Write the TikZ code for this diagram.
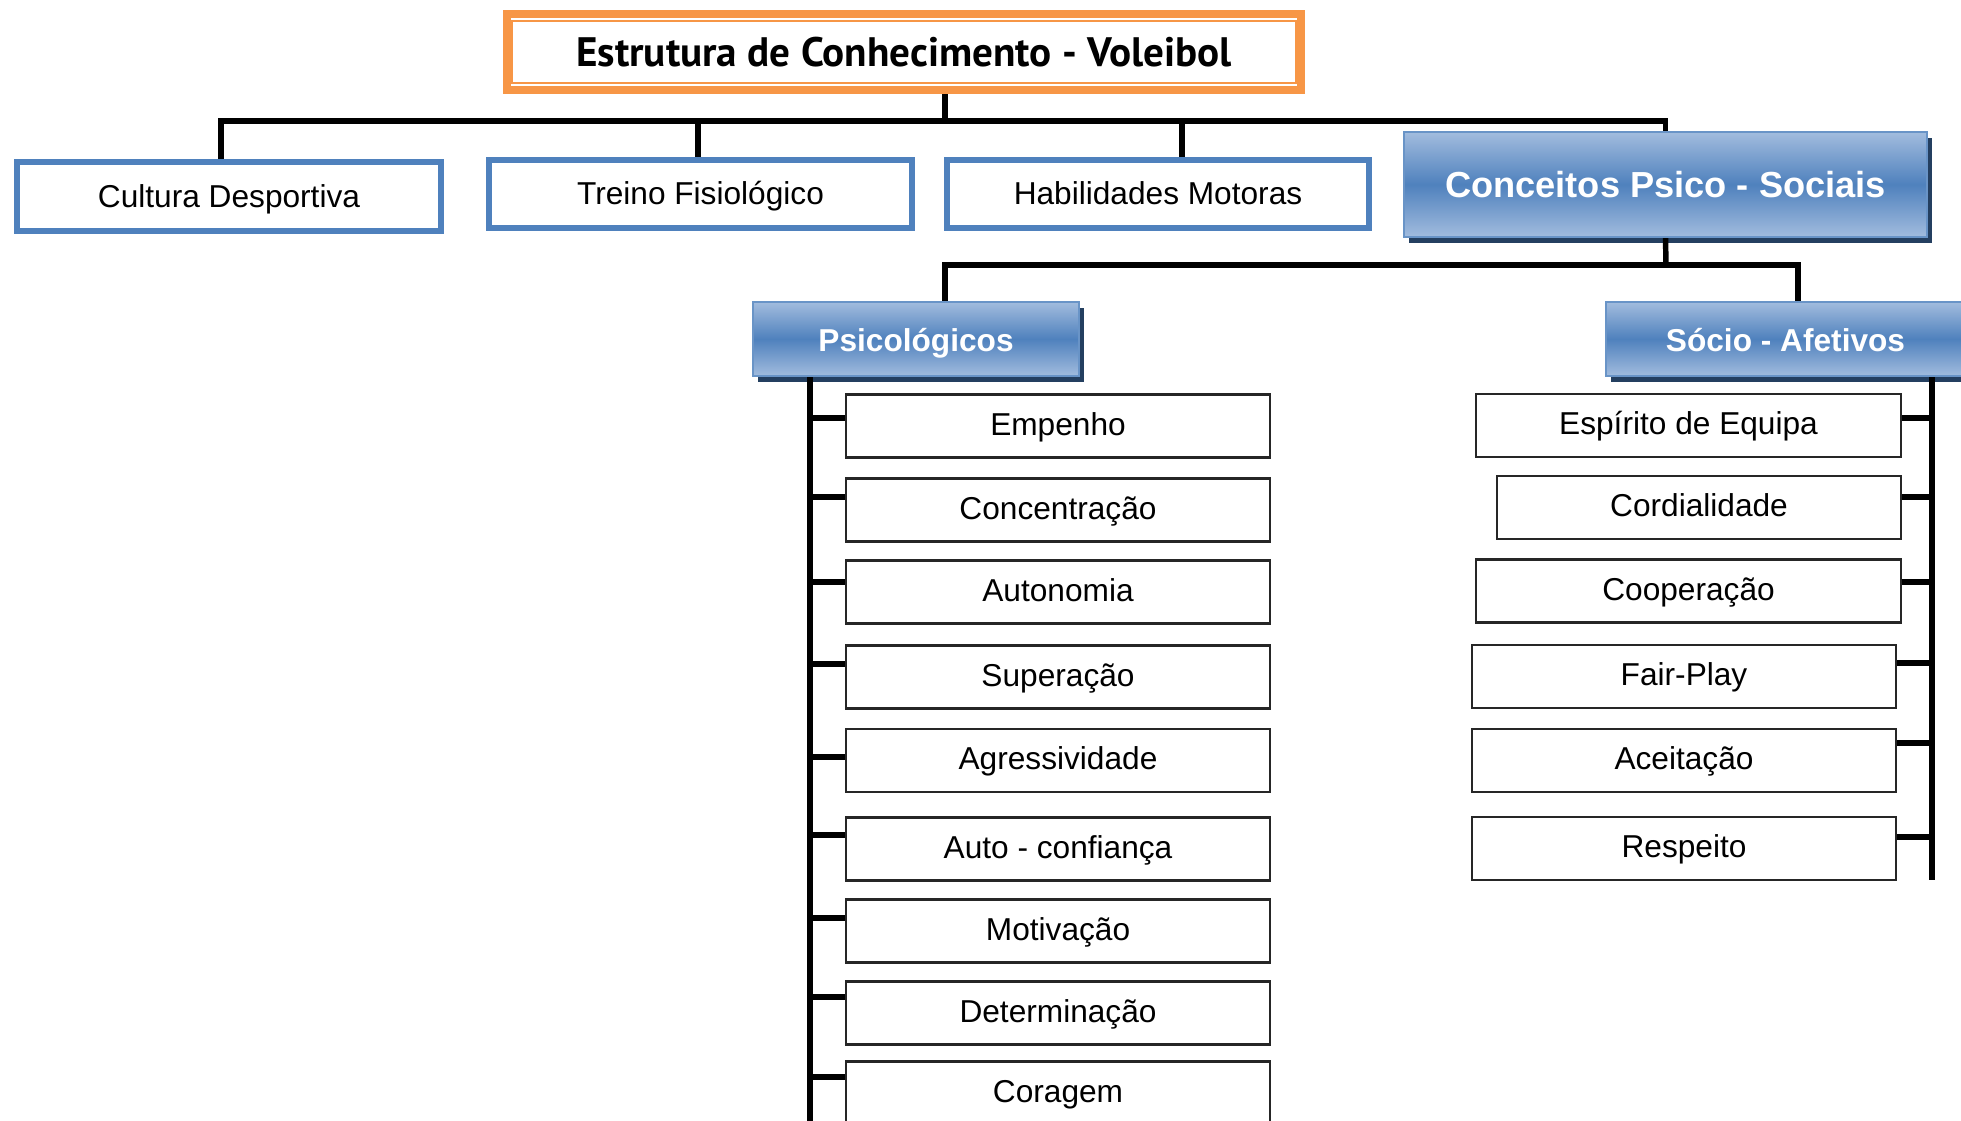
\documentclass[tikz,border=0pt]{standalone}
\usepackage{fontspec}
\setmainfont{Liberation Sans}
\newfontfamily\titlefont{PT Sans}
\usetikzlibrary{shadows}

\definecolor{laranja}{HTML}{F79646}
\definecolor{azul}{HTML}{4F81BD}
\definecolor{azulclaro}{HTML}{A2BCDE}
\definecolor{azulescuro}{HTML}{243F60}

\begin{document}
\begin{tikzpicture}[x=0.01cm,y=-0.01cm,
  liga/.style={line width=1.55pt},
  caixa/.style={draw=azul,line width=1.7pt,fill=white,minimum width=4.24cm,minimum height=0.69cm,
    text height=7.8pt,text depth=1.8pt,font=\fontsize{9}{11}\selectfont},
  grad/.style={draw=azul!85,line width=0.6pt,top color=azulclaro,bottom color=azulclaro,middle color=azul,text=white,
    text height=8pt,text depth=0.8pt,font=\fontsize{9}{11}\selectfont\bfseries,
    drop shadow={shadow xshift=1.4pt,shadow yshift=-1.7pt,fill=azulescuro,opacity=1}},
  folha/.style={draw=black!85,line width=0.6pt,fill=white,minimum height=0.63cm,
    text height=7.2pt,text depth=1.9pt,font=\fontsize{9}{11}\selectfont}]
\useasboundingbox (0,0) rectangle (1961,1120);

% titulo
\node[draw=laranja,line width=2.3pt,minimum width=7.94cm,minimum height=0.76cm,text height=9pt,text depth=0.8pt,
  font=\titlefont\fontsize{11.7}{14}\selectfont\bfseries] (titulo) at (904,52) {Estrutura de Conhecimento - Voleibol};
\draw[laranja,line width=0.6pt] ([shift={(9,11)}]titulo.north west) rectangle ([shift={(-9,-11)}]titulo.south east);

% nivel 1
\node[caixa] (cultura) at (229,196.5) {Cultura Desportiva};
\node[caixa,minimum width=4.23cm,minimum height=0.68cm] (treino) at (700.5,194) {Treino Fisiológico};
\node[caixa,minimum width=4.22cm,minimum height=0.68cm] (habil) at (1158,194) {Habilidades Motoras};
\node[grad,minimum width=5.23cm,minimum height=1.05cm,text height=8.8pt,text depth=1.3pt,
  font=\fontsize{10.3}{12}\selectfont\bfseries] (conceitos) at (1665.5,184.5) {Conceitos Psico - Sociais};

\coordinate (barra1) at (945,121);
\draw[liga] (titulo.south -| barra1) -- (barra1);
\draw[liga] (barra1) -| ([xshift=-0.8mm]cultura.north);
\draw[liga] (barra1) -| ([xshift=-0.25mm]treino.north);
\draw[liga] (barra1) -| ([xshift=2.4mm]habil.north);
\draw[liga] (barra1) -| (conceitos.north);

% nivel 2
\node[grad,minimum width=3.26cm,minimum height=0.74cm] (psico) at (916,339) {Psicológicos};
\node[grad,minimum width=3.59cm,minimum height=0.74cm] (socio) at (1785.5,339) {Sócio - Afetivos};

\coordinate (barra2) at (1666,265);
\draw[liga] (conceitos.south) -- (barra2);
\draw[liga] (barra2) -| ([xshift=2.9mm]psico.north);
\draw[liga] (barra2) -| ([xshift=1.25mm]socio.north);

% Psicologicos
\coordinate (pbarra) at (810,1130);
\draw[liga] (psico.south -| pbarra) -- (pbarra);
\foreach \n/\t/\y/\k in {emp/Empenho/426/418, conc/Concentração/510/497, auto/Autonomia/592/582,
    sup/Superação/677/664, agr/Agressividade/760.5/757, conf/Auto - confiança/849/835,
    mot/Motivação/931/918, det/Determinação/1013/997, cor/Coragem/1093/1077} {
  \node[folha,minimum width=4.24cm] (\n) at (1058,\y) {\t};
  \draw[liga] (pbarra |- 0,\k) -- (\n.west |- 0,\k);
}

% Socio-afetivos
\coordinate (sbarra) at (1932,880);
\draw[liga] (socio.south -| sbarra) -- (sbarra);
\foreach \n/\t/\x/\w/\y/\k in {esp/Espírito de Equipa/1688.5/4.25/425.5/418, cord/Cordialidade/1699/4.04/507.5/497,
    coop/Cooperação/1688.5/4.25/591/582, fair/Fair-Play/1684/4.24/676.5/663,
    acei/Aceitação/1684/4.24/760.5/743, resp/Respeito/1684/4.24/848.5/837} {
  \node[folha,minimum width=\w cm] (\n) at (\x,\y) {\t};
  \draw[liga] (\n.east |- 0,\k) -- (sbarra |- 0,\k);
}
\end{tikzpicture}
\end{document}
